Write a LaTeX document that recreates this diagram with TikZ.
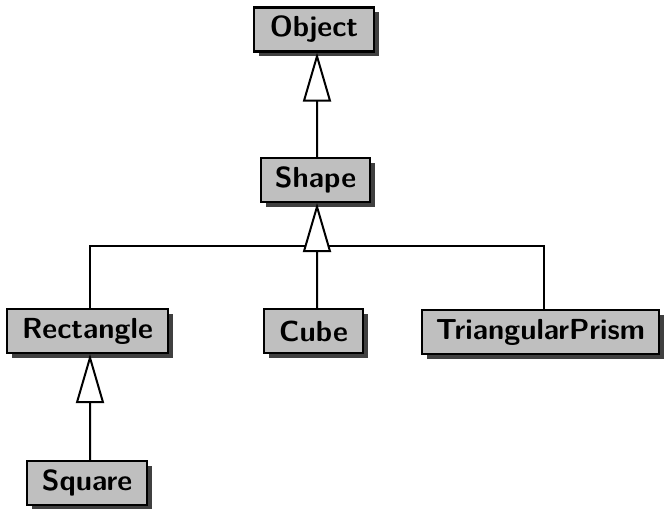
\documentclass[tikz,border=0pt]{standalone}
\usetikzlibrary{arrows.meta,shadows}
\begin{document}
\begin{tikzpicture}[x=1bp,y=-1bp,
  classbox/.style={draw=black, line width=2.2bp, fill=black!25,
    minimum height=44bp, inner sep=0pt, anchor=center,
    font=\sffamily\bfseries\fontsize{29bp}{30bp}\selectfont,
    drop shadow={shadow xshift=5bp, shadow yshift=-5bp, fill=black!75, opacity=1}},
  link/.style={line width=2bp},
  inherit/.style={link, -{Triangle[length=49bp, width=28bp, fill=white, line width=2bp]}}]
  \useasboundingbox (0,0) rectangle (664,509);

  % class boxes
  \node[classbox, minimum width=120bp] (obj)   at (314,29.5) {Object};
  \node[classbox, minimum width=109bp] (shape) at (315.5,180) {Shape};
  \node[classbox, minimum width=161bp] (rect)  at (87.5,331) {Rectangle};
  \node[classbox, minimum width=99bp]  (cube)  at (313.5,331) {Cube};
  \node[classbox, minimum width=237bp] (tri)   at (540.5,332) {TriangularPrism};
  \node[classbox, minimum width=120bp] (sq)    at (87,483) {Square};

  % shared branch joining the three subclasses of Shape
  \coordinate (bus) at (317,246);
  \draw[link] ([xshift=2.5bp]rect.north) |- (bus) -| ([xshift=3.5bp]tri.north);

  % generalisation arrows
  \draw[inherit] ([xshift=3.5bp]cube.north) -- ([xshift=1.5bp]shape.south);
  \draw[inherit] ([xshift=1.5bp]shape.north) -- ([xshift=3bp]obj.south);
  \draw[inherit] ([xshift=3bp]sq.north) -- ([xshift=2.5bp]rect.south);
\end{tikzpicture}
\end{document}
